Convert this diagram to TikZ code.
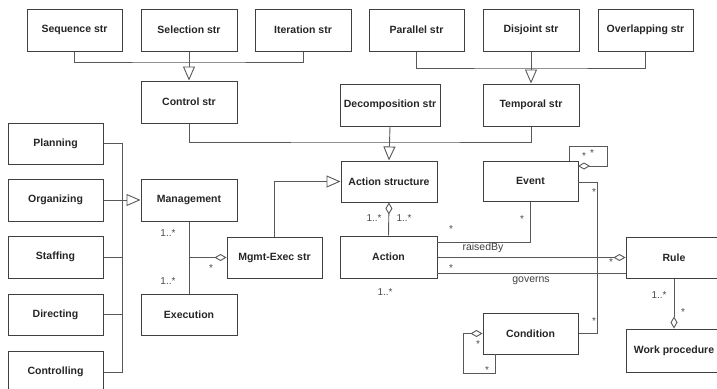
\documentclass[tikz,border=0pt]{standalone}
\usepackage{fontspec}
\setmainfont{Liberation Sans}
\usetikzlibrary{arrows.meta}
\begin{document}
\begin{tikzpicture}[x=1pt,y=-1pt,
  cls/.style={draw=black!75, line width=1pt, fill=white, inner sep=0pt,
    minimum width=96pt, minimum height=42pt, font=\bfseries\fontsize{10.5}{12}\selectfont, text=black!85},
  link/.style={draw=black!65, line width=0.9pt},
  gen/.style={link, -{Triangle[open, length=14pt, width=12pt]}},
  agg/.style={link, {Diamond[open, length=12pt, width=7pt]}-},
  aggend/.style={link, -{Diamond[open, length=12pt, width=7pt]}},
  mult/.style={font=\fontsize{10}{12}\selectfont, text=black!70, inner sep=0pt},
  role/.style={font=\fontsize{10.5}{12}\selectfont, text=black!75, inner sep=0pt}]
\fill[white] (0,0) rectangle (717,388);
\useasboundingbox (0,0) rectangle (717,388);
\clip (0,0) rectangle (717,388);

% control / temporal structure kinds
\node[cls, minimum width=95pt] (seq)  at (74.5,30)  {Sequence str};
\node[cls] (sel)  at (189,30)   {Selection str};
\node[cls] (iter) at (303,30)   {Iteration str};
\node[cls, minimum width=95pt] (par)  at (416.5,30) {Parallel str};
\node[cls] (dis)  at (531,30)   {Disjoint str};
\node[cls, minimum width=95pt] (ovl)  at (645.5,30) {Overlapping str};

\node[cls] (ctrl)   at (189,102) {Control str};
\node[cls, minimum width=100pt] (decomp) at (390,105) {Decomposition str};
\node[cls] (temp)   at (531,105) {Temporal str};

% management functions
\node[cls, minimum width=95pt, minimum height=41pt] (plan)  at (55.5,143.5) {Planning};
\node[cls, minimum width=95pt] (org)   at (55.5,200)   {Organizing};
\node[cls, minimum width=95pt] (staff) at (55.5,257)   {Staffing};
\node[cls, minimum width=95pt, minimum height=41pt] (dir)   at (55.5,314.5) {Directing};
\node[cls, minimum width=95pt] (ctrlg) at (55.5,372)   {Controlling};

\node[cls] (mgmt) at (189,200)   {Management};
\node[cls, minimum height=41pt] (exec) at (189,314.5) {Execution};
\node[cls, minimum width=95pt, minimum height=41pt] (mes) at (274.5,257.5) {Mgmt-Exec str};

\node[cls, minimum height=41pt] (as)  at (389,181.5) {Action structure};
\node[cls, minimum width=97pt] (act) at (388.5,257) {Action};
\node[cls, minimum width=95pt, minimum height=40pt] (event) at (530.5,181) {Event};
\node[cls, minimum height=41pt] (rule) at (674,257.5) {Rule};
\node[cls, minimum height=43pt] (wp)   at (674,350.5) {Work procedure};
\node[cls, minimum width=95pt, minimum height=41pt] (cond) at (530.5,333.5) {Condition};

% generalisation buses
\coordinate (busL) at (189,62);
\coordinate (busR) at (531,68);
\coordinate (busM) at (390,142);
\draw[link] (seq.south) |- (busL) -| (iter.south);
\draw[gen] (sel.south) -- (ctrl.north);
\draw[link] (par.south) |- (busR) -| (ovl.south);
\draw[gen] (dis.south) -- (temp.north);
\draw[link] (ctrl.south) |- (busM) -| (temp.south);
\draw[gen] (decomp.south) -- (as.north);

\coordinate (busF) at (122,143.5);
\coordinate (busFend) at (122,372);
\draw[link] (plan.east) -- (busF) -- (busFend) -- (ctrlg.east);
\draw[link] (staff.east) -- (staff.east -| busF);
\draw[link] (dir.east) -- (dir.east -| busF);
\draw[gen] (org.east) -- (mgmt.west);

% management / execution
\draw[link] (mgmt.south) -- (exec.north);
\draw[agg] (mes.west) -- (mes.west -| mgmt.south);
\draw[gen] (mes.north) |- (as.west);
\draw[agg] (as.south) -- (act.north);

% action, event, rule
\coordinate (aRaise) at (437,242);
\draw[link] (event.south) |- (aRaise);
\draw[agg] (rule.west) -- (rule.west -| act.east);
\coordinate (aGov) at (437,273);
\coordinate (rGov) at (626,273);
\draw[link] (aGov) -- (rGov);
\draw[aggend] (rule.south) -- (wp.north);

% event self association
\coordinate (eL0) at (578,166);
\coordinate (eL1) at (607,166);
\coordinate (eL2) at (607,146);
\coordinate (eL3) at (569,146);
\coordinate (eL4) at (569,161);
\draw[agg] (eL0) -- (eL1) -- (eL2) -- (eL3) -- (eL4);

% event - condition
\coordinate (eC0) at (578,182);
\coordinate (eC1) at (597,182);
\draw[link] (eC0) -- (eC1) |- (cond.east);

% condition self association
\coordinate (cL1) at (463,333.5);
\coordinate (cL2) at (463,373);
\coordinate (cL3) at (495,373);
\coordinate (cL4) at (495,354);
\draw[agg] (cond.west) -- (cL1) -- (cL2) -- (cL3) -- (cL4);

% multiplicities and roles
\node[mult] (m1) at (168,233) {1..*};
\node[mult] (m2) at (168,281) {1..*};
\node[mult] (m3) at (211,268) {*};
\node[mult] (m4) at (374,218) {1..*};
\node[mult] (m5) at (404,218) {1..*};
\node[mult] (m6) at (451,229) {*};
\node[mult] (m7) at (522,219) {*};
\node[mult] (m8) at (451,268) {*};
\node[mult] (m9) at (611,262) {*};
\node[mult] (m10) at (385,292) {1..*};
\node[mult] (m11) at (584,156) {*};
\node[mult] (m12) at (592,153) {*};
\node[mult] (m13) at (594,192) {*};
\node[mult] (m14) at (594,321) {*};
\node[mult] (m15) at (478,344) {*};
\node[mult] (m16) at (487,370) {*};
\node[mult] (m17) at (659,295) {1..*};
\node[mult] (m18) at (683,312) {*};
\node[role] (raised) at (483,248) {raisedBy};
\node[role] (gov) at (531,281) {governs};
\end{tikzpicture}
\end{document}
